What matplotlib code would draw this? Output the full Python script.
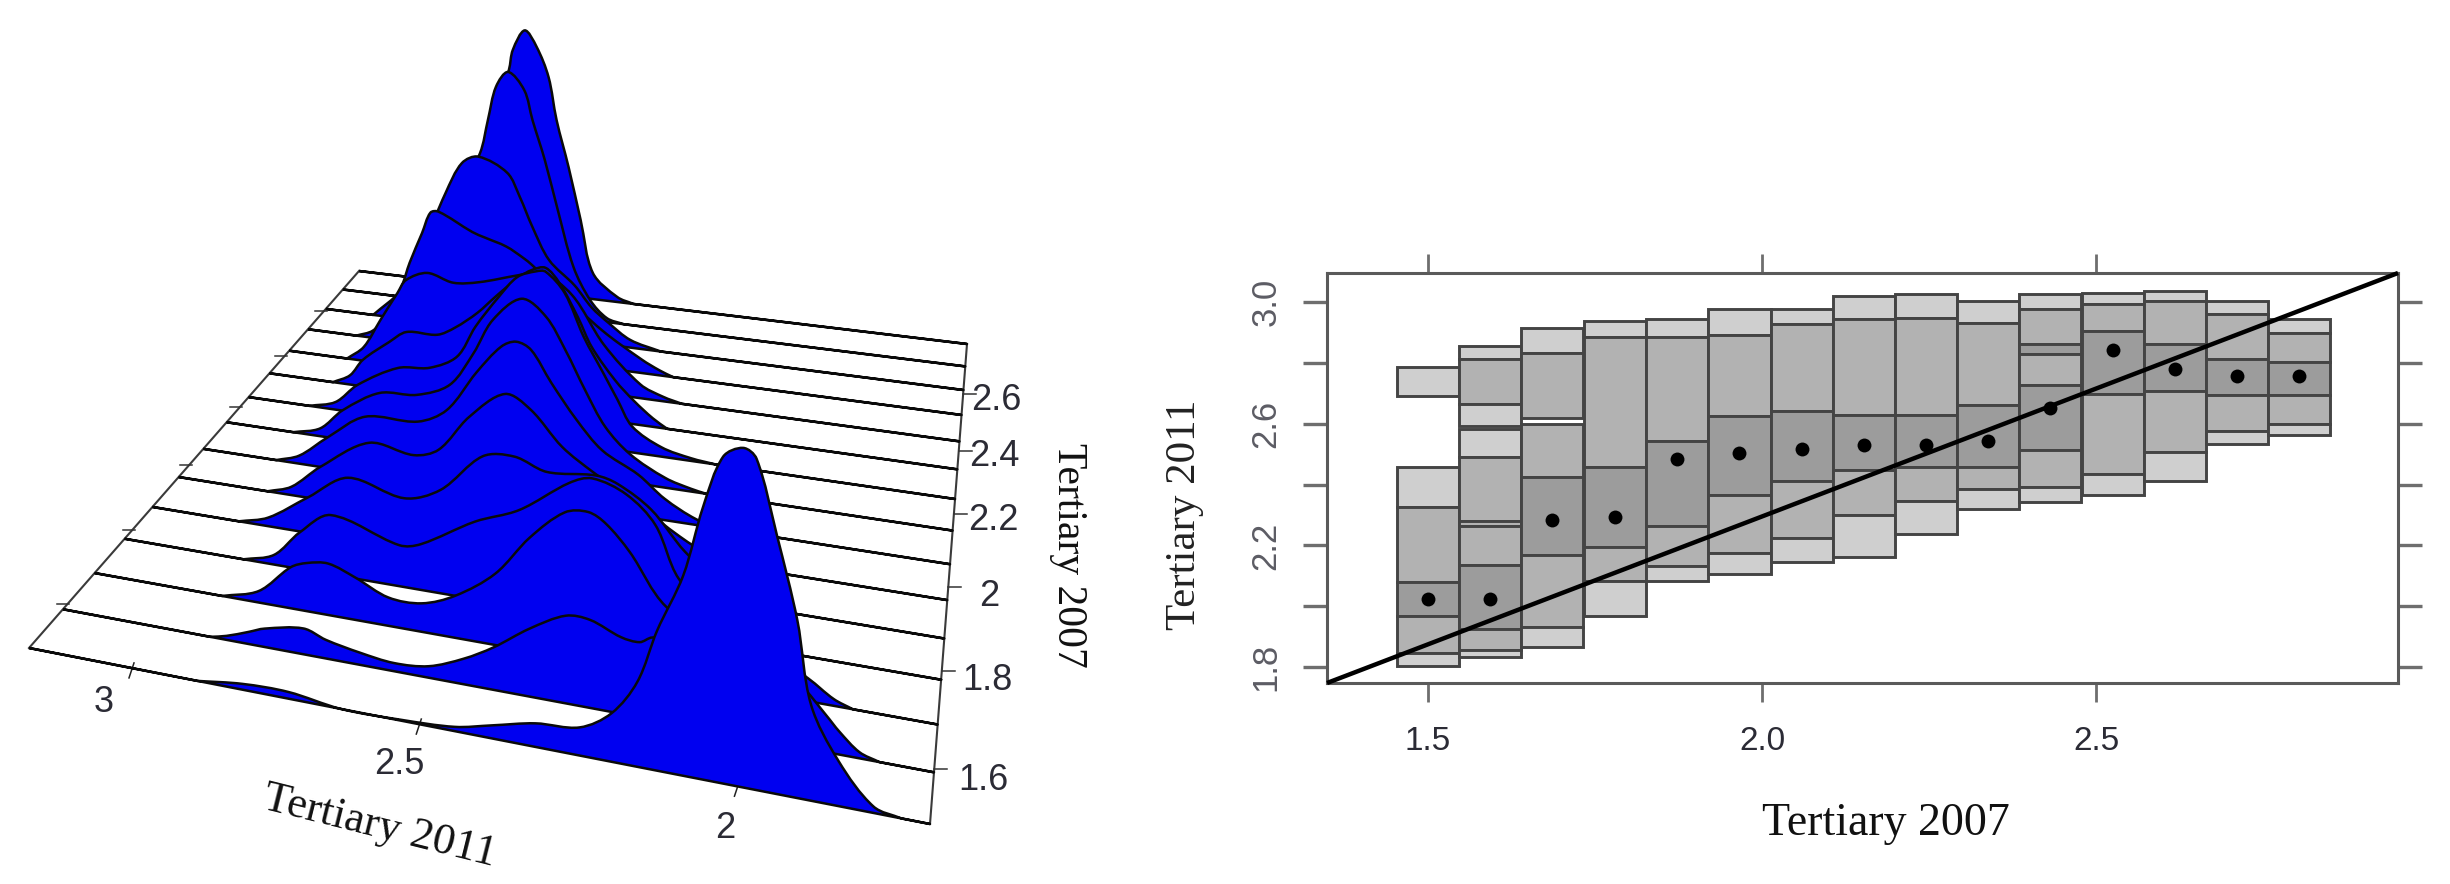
import numpy as np
import matplotlib
matplotlib.use("Agg")
import matplotlib.pyplot as plt
from matplotlib.patches import PathPatch
from matplotlib.path import Path

# conditioning values of Tertiary 2007 (one ridge / one column each)
tertiary_2007 = [1.5, 1.593, 1.686, 1.78, 1.873, 1.966, 2.059, 2.152, 2.245, 2.338, 2.431, 2.524, 2.617, 2.71, 2.803]

# ridge curves, front to back: Tertiary 2011 value and density
ridge_x = [
    [2.88, 2.80, 2.72, 2.63, 2.53, 2.44, 2.38, 2.31, 2.24, 2.19, 2.15, 2.12, 2.08, 2.05, 2.02, 1.99, 1.97, 1.94, 1.91, 1.89, 1.85, 1.80, 1.76],
    [2.91, 2.88, 2.84, 2.81, 2.74, 2.70, 2.64, 2.58, 2.52, 2.46, 2.41, 2.35, 2.29, 2.25, 2.20, 2.17, 2.15, 2.07, 1.98, 1.92, 1.88, 1.86, 1.83, 1.80],
    [2.94, 2.87, 2.81, 2.78, 2.74, 2.69, 2.63, 2.57, 2.51, 2.44, 2.38, 2.32, 2.28, 2.25, 2.21, 2.15, 2.06, 1.96, 1.92, 1.88, 1.85],
    [2.95, 2.89, 2.84, 2.78, 2.65, 2.61, 2.51, 2.43, 2.34, 2.30, 2.24, 2.19, 2.15, 2.08, 2.01, 1.95],
    [3.01, 2.95, 2.87, 2.79, 2.68, 2.61, 2.53, 2.47, 2.41, 2.32, 2.28, 2.22, 2.16, 2.10, 2.06, 2.03],
    [3.00, 2.95, 2.89, 2.79, 2.70, 2.65, 2.59, 2.52, 2.47, 2.41, 2.35, 2.27, 2.19, 2.13, 2.09],
    [3.03, 2.98, 2.92, 2.84, 2.73, 2.67, 2.61, 2.56, 2.53, 2.50, 2.46, 2.41, 2.36, 2.29, 2.24, 2.18, 2.13],
    [3.04, 2.98, 2.93, 2.85, 2.77, 2.70, 2.65, 2.61, 2.55, 2.50, 2.46, 2.42, 2.38, 2.33, 2.26, 2.21, 2.18],
    [3.05, 2.99, 2.94, 2.85, 2.78, 2.72, 2.68, 2.63, 2.59, 2.55, 2.53, 2.49, 2.45, 2.41, 2.38, 2.35, 2.29, 2.23, 2.18],
    [3.04, 3.00, 2.97, 2.91, 2.87, 2.80, 2.76, 2.71, 2.67, 2.62, 2.59, 2.56, 2.53, 2.49, 2.46, 2.41, 2.37, 2.33, 2.30],
    [3.05, 3.01, 2.97, 2.93, 2.91, 2.86, 2.80, 2.74, 2.65, 2.60, 2.53, 2.46, 2.38, 2.33, 2.29],
    [3.07, 3.03, 3.00, 2.96, 2.94, 2.91, 2.89, 2.87, 2.79, 2.76, 2.71, 2.67, 2.65, 2.59, 2.49, 2.40, 2.36, 2.33],
    [3.07, 3.00, 2.95, 2.89, 2.85, 2.81, 2.74, 2.71, 2.68, 2.64, 2.58, 2.54, 2.50, 2.45, 2.38],
    [3.04, 2.97, 2.90, 2.84, 2.82, 2.80, 2.77, 2.73, 2.71, 2.68, 2.65, 2.61, 2.57, 2.53, 2.49],
    [3.05, 2.98, 2.92, 2.87, 2.84, 2.80, 2.79, 2.76, 2.73, 2.70, 2.68, 2.65, 2.62, 2.59, 2.53, 2.49],
]
ridge_d = [
    [0.00, 0.07, 0.08, 0.00, 0.01, 0.05, 0.15, 0.27, 0.32, 0.55, 0.96, 1.57, 2.24, 3.04, 3.63, 3.76, 3.66, 2.85, 1.95, 1.05, 0.49, 0.07, 0.00],
    [0.00, 0.05, 0.15, 0.23, 0.32, 0.23, 0.15, 0.10, 0.14, 0.31, 0.51, 0.81, 1.04, 1.04, 0.90, 0.88, 0.96, 1.03, 0.98, 0.72, 0.42, 0.26, 0.07, 0.00],
    [0.00, 0.15, 0.53, 0.62, 0.66, 0.54, 0.36, 0.36, 0.53, 0.89, 1.41, 1.79, 1.84, 1.73, 1.43, 0.84, 0.55, 0.41, 0.27, 0.08, 0.00],
    [0.00, 0.13, 0.49, 0.79, 0.54, 0.60, 1.01, 1.25, 1.70, 1.80, 1.66, 1.33, 0.70, 0.27, 0.11, 0.00],
    [0.00, 0.12, 0.49, 0.85, 0.69, 0.88, 1.42, 1.48, 1.34, 1.39, 1.32, 1.05, 0.57, 0.25, 0.06, 0.00],
    [0.00, 0.12, 0.47, 0.92, 0.84, 0.97, 1.49, 1.88, 1.71, 1.26, 0.97, 0.64, 0.28, 0.07, 0.00],
    [0.00, 0.12, 0.45, 0.84, 0.88, 1.11, 1.71, 2.13, 2.23, 2.14, 1.71, 1.23, 0.85, 0.58, 0.30, 0.08, 0.00],
    [0.00, 0.12, 0.45, 0.79, 0.84, 1.06, 1.58, 2.11, 2.48, 2.26, 1.80, 1.25, 0.76, 0.41, 0.14, 0.04, 0.00],
    [0.00, 0.12, 0.44, 0.79, 0.86, 1.09, 1.59, 2.09, 2.43, 2.55, 2.56, 2.27, 1.64, 1.14, 0.76, 0.39, 0.14, 0.04, 0.00],
    [0.00, 0.15, 0.43, 0.77, 0.97, 0.99, 1.14, 1.42, 1.71, 2.05, 2.20, 2.26, 2.05, 1.55, 1.11, 0.64, 0.36, 0.13, 0.00],
    [0.00, 0.23, 0.72, 1.20, 1.43, 1.59, 1.48, 1.54, 1.73, 1.82, 1.51, 0.78, 0.22, 0.07, 0.00],
    [0.00, 0.12, 0.37, 0.93, 1.36, 1.89, 2.25, 2.28, 2.00, 1.93, 1.82, 1.66, 1.56, 1.20, 0.62, 0.22, 0.08, 0.00],
    [0.00, 0.50, 1.24, 2.28, 2.83, 2.97, 2.74, 2.35, 1.86, 1.32, 0.94, 0.60, 0.37, 0.13, 0.00],
    [0.00, 0.72, 1.85, 2.72, 3.33, 3.93, 4.21, 3.91, 3.40, 2.72, 1.91, 0.89, 0.35, 0.07, 0.00],
    [0.00, 0.29, 0.98, 2.11, 3.05, 3.98, 4.35, 4.72, 4.44, 3.91, 3.15, 2.32, 1.39, 0.47, 0.09, 0.00],
]

ticks_2011 = [3, 2.5, 2]
ticks_2007 = [1.6, 1.8, 2.0, 2.2, 2.4, 2.6]

# stratified boxes: edges top to bottom, shade between consecutive edges
# L light, M medium, D dark, N empty
col_edges = [
    [2.786, 2.690, 2.459, 2.327, 2.079, 1.967, 1.847, 1.803],
    [2.855, 2.812, 2.664, 2.593, 2.582, 2.489, 2.279, 2.265, 2.137, 1.926, 1.855, 1.833],
    [2.915, 2.833, 2.620, 2.598, 2.426, 2.167, 1.932, 1.866],
    [2.937, 2.885, 2.459, 2.196, 2.083, 1.967],
    [2.943, 2.885, 2.544, 2.263, 2.134, 2.083],
    [2.976, 2.891, 2.624, 2.367, 2.176, 2.107],
    [2.976, 2.926, 2.642, 2.413, 2.225, 2.145],
    [3.019, 2.943, 2.629, 2.448, 2.301, 2.163],
    [3.025, 2.946, 2.629, 2.459, 2.347, 2.236],
    [3.003, 2.932, 2.662, 2.459, 2.385, 2.320],
    [3.025, 2.978, 2.861, 2.830, 2.727, 2.513, 2.391, 2.342],
    [3.030, 2.992, 2.904, 2.697, 2.434, 2.367],
    [3.036, 3.003, 2.861, 2.708, 2.506, 2.413],
    [3.003, 2.959, 2.812, 2.695, 2.577, 2.533],
    [2.943, 2.899, 2.801, 2.695, 2.598, 2.563],
]
col_shades = [
    "LNLMDML", "LMLNLMMMDML", "LMNMDML", "LMDML", "LMDML", "LMDML", "LMDML", "LMDML",
    "LMDML", "LMDML", "LMDMDML", "LMDML", "LMDML", "LMDML", "LMDML",
]
medians = [2.025, 2.025, 2.282, 2.295, 2.485, 2.504, 2.518, 2.531, 2.531, 2.544, 2.650, 2.841, 2.779, 2.755, 2.755]
line_x = [1.349, 2.951]
line_y = [1.748, 3.095]

SHADE = {"L": "#cfcfcf", "M": "#b2b2b2", "D": "#9c9c9c"}
SANS = "Liberation Sans"
SERIF = "Liberation Serif"
W, H = 2450, 884

# perspective of the left panel: corners of the floor in figure pixels
P0, P1, P2, P3 = map(np.array, [(29.0, 648.0), (930.0, 824.0), (967.0, 344.0), (359.0, 271.0)])
XMAX, XMIN = 3.19, 1.72
Y_LO, Y_HI = tertiary_2007[0], tertiary_2007[-1]
HEIGHT = 80.0


def make_projection():
    s = P0 - P1 + P2 - P3
    d1, d2 = P1 - P2, P3 - P2
    det = d1[0] * d2[1] - d2[0] * d1[1]
    g = (s[0] * d2[1] - d2[0] * s[1]) / det
    h = (d1[0] * s[1] - s[0] * d1[1]) / det
    a = P1 - P0 + g * P1
    b = P3 - P0 + h * P3

    def project(x, y, z=0.0):
        u = (XMAX - np.asarray(x, float)) / (XMAX - XMIN)
        t = (np.asarray(y, float) - Y_LO) / (Y_HI - Y_LO)
        w = 1 + g * u + h * t
        return (a[0] * u + b[0] * t + P0[0]) / w, (a[1] * u + b[1] * t + P0[1] - HEIGHT * np.asarray(z, float)) / w

    return project


def spline_path(px, py):
    # bezier through the points, tangent from neighbours
    pts = np.column_stack([px, py])
    seg = np.hypot(*np.diff(pts, axis=0).T)
    tan = np.zeros_like(pts)
    tan[1:-1] = (pts[2:] - pts[:-2]) / (seg[1:] + seg[:-1])[:, None]
    tan[0] = (pts[1] - pts[0]) / seg[0]
    tan[-1] = (pts[-1] - pts[-2]) / seg[-1]
    verts, codes = [pts[0]], [Path.LINETO]
    for i in range(len(seg)):
        verts += [pts[i] + tan[i] * seg[i] / 3, pts[i + 1] - tan[i + 1] * seg[i] / 3, pts[i + 1]]
        codes += [Path.CURVE4] * 3
    return verts, codes


def draw_ridges(ax):
    project = make_projection()
    for side in (XMAX, XMIN):
        sx, sy = project([side, side], [Y_LO, Y_HI])
        ax.plot(sx, sy, color="#3a3a3a", lw=1.5, zorder=1)
    for x in ticks_2011:
        bx, by = project(x, Y_LO)
        ax.plot([bx + 3, bx - 2], [by - 5, by + 10], color="#222222", lw=1.1, zorder=1)
    for v in ticks_2007:
        rx, ry = project(XMIN, v)
        ax.plot([rx, rx + 13], [ry, ry], color="#333333", lw=1.1, zorder=1)
        lx, ly = project(XMAX, v)
        ax.plot([lx - 8, lx + 4], [ly - 2, ly - 2], color="#333333", lw=1.1, zorder=1)

    for i in range(len(tertiary_2007) - 1, -1, -1):
        y = tertiary_2007[i]
        px, py = project(ridge_x[i], y, ridge_d[i])
        verts, codes = spline_path(px, py)
        lx, ly = project(XMAX, y)
        rx, ry = project(XMIN, y)
        verts = [np.array([lx, ly])] + verts + [np.array([rx, ry]), np.array([lx, ly])]
        codes = [Path.MOVETO] + codes + [Path.LINETO, Path.LINETO]
        patch = PathPatch(Path(verts, codes), facecolor="#0000f0", edgecolor="#0a0a0a", lw=1.8,
                          joinstyle="round", zorder=2 + (14 - i) * 0.01)
        ax.add_patch(patch)


def draw_labels_left(ax):
    tick_pos = [(104, 703), (399, 764), (725, 829)]
    for (tx, ty), lab in zip(tick_pos, ["3", "2.5", "2"]):
        ax.text(tx, ty, lab, ha="center", va="center", family=SANS, fontsize=26, color="#2b2b35")
    pos_2007 = [(983, 781), (987, 680), (989, 597), (993, 521), (994, 457), (996, 401)]
    for (tx, ty), lab in zip(pos_2007, ["1.6", "1.8", "2", "2.2", "2.4", "2.6"]):
        ax.text(tx, ty, lab, ha="center", va="center", family=SANS, fontsize=26, color="#2b2b35")
    ax.text(380, 826, "Tertiary 2011", rotation=-14, rotation_mode="anchor", ha="center", va="center",
            family=SERIF, fontsize=32, color="#111111")
    ax.text(1068, 555, "Tertiary 2007", rotation=-90, ha="center", va="center",
            family=SERIF, fontsize=30, color="#111111")


def draw_boxes(ax):
    for x, edges, shades, med in zip(tertiary_2007, col_edges, col_shades, medians):
        for top, low, s in zip(edges[:-1], edges[1:], shades):
            if s == "N":
                continue
            ax.bar(x, top - low, bottom=low, width=0.0928, color=SHADE[s], edgecolor="#444444", linewidth=2.1, zorder=2)
        ax.plot(x, med, "o", color="black", ms=10, mew=0, zorder=4)
    ax.plot(line_x, line_y, color="black", lw=3.2, zorder=3, solid_capstyle="butt", clip_on=False)
    ax.set_xlim(1.349, 2.951)
    ax.set_ylim(1.748, 3.095)
    ax.set_xticks([1.5, 2.0, 2.5], ["1.5", "2.0", "2.5"])
    ax.set_yticks([1.8, 2.0, 2.2, 2.4, 2.6, 2.8, 3.0], ["1.8", "", "2.2", "", "2.6", "", "3.0"])
    ax.tick_params(axis="x", top=True, length=14, width=2.0, color="#6e6e6e", pad=17, labelsize=24, labelcolor="#2b2b35")
    ax.tick_params(axis="y", right=True, length=17, width=2.4, color="#6e6e6e", pad=15, labelsize=25, labelcolor="#5c5c64")
    for lab in ax.get_xticklabels() + ax.get_yticklabels():
        lab.set_family(SANS)
    for lab in ax.get_yticklabels():
        lab.set_rotation(90)
        lab.set_va("center")
    for spine in ax.spines.values():
        spine.set_color("#5a5a5a")
        spine.set_linewidth(2.2)


def main():
    fig = plt.figure(figsize=(W / 100, H / 100), dpi=100, facecolor="white")
    left = fig.add_axes([0, 0, 1, 1])
    left.set_xlim(0, W)
    left.set_ylim(H, 0)
    left.axis("off")
    draw_ridges(left)
    draw_labels_left(left)

    right = fig.add_axes([1327 / W, 1 - 683 / H, (2398 - 1327) / W, (683 - 273) / H])
    draw_boxes(right)
    fig.text(1886 / W, 1 - 824 / H, "Tertiary 2007", ha="center", va="center", family=SERIF, fontsize=33, color="#111111")
    fig.text(1185 / W, 1 - 515 / H, "Tertiary 2011", rotation=90, ha="center", va="center", family=SERIF, fontsize=31, color="#222222")
    fig.savefig("out.png", dpi=100)
    plt.close(fig)


if __name__ == "__main__":
    main()
